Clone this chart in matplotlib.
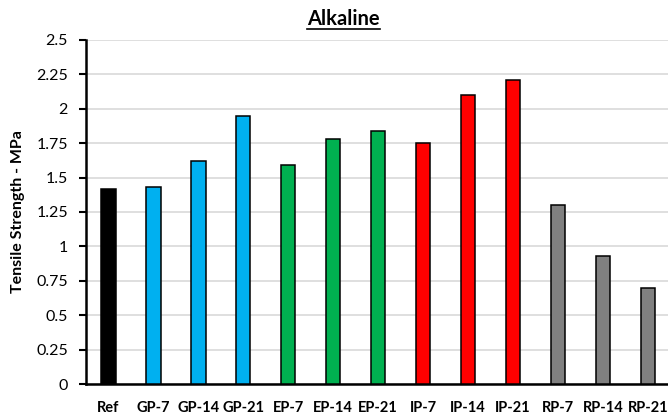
import matplotlib.pyplot as plt

plt.rcParams['font.family'] = ['Lato', 'DejaVu Sans']

categories = ['Ref', 'GP-7', 'GP-14', 'GP-21', 'EP-7', 'EP-14', 'EP-21',
              'IP-7', 'IP-14', 'IP-21', 'RP-7', 'RP-14', 'RP-21']
values = [1.42, 1.43, 1.62, 1.95, 1.59, 1.78, 1.84, 1.75, 2.10, 2.21, 1.30, 0.93, 0.70]
colors = ['#000000'] + ['#00B0F0'] * 3 + ['#00B050'] * 3 + ['#FF0000'] * 3 + ['#808080'] * 3
y_ticks = [0, 0.25, 0.5, 0.75, 1, 1.25, 1.5, 1.75, 2, 2.25, 2.5]
y_labels = ['0', '0.25', '0.5', '0.75', '1', '1.25', '1.5', '1.75', '2', '2.25', '2.5']

fig = plt.figure(figsize=(6.68, 4.2), dpi=100)
ax = fig.add_axes([0.1287, 0.0857, 0.8713, 0.8191])

x = range(len(categories))
ax.bar(x, values, width=0.32, color=colors, edgecolor='black', linewidth=1.1, zorder=3)

ax.set_xlim(-0.5, 12.45)
ax.set_ylim(0, 2.5)
ax.set_yticks(y_ticks)
ax.set_yticklabels(y_labels, fontsize=11.5)
ax.set_xticks(list(x))
ax.set_xticklabels(categories, fontsize=10.5, fontweight='bold')
ax.tick_params(axis='x', length=0, pad=12)
ax.tick_params(axis='y', direction='out', length=5, width=1.5, pad=8)

ax.grid(axis='y', color='#D9D9D9', linewidth=1.2, zorder=0)
for s in ['top', 'right']:
    ax.spines[s].set_visible(False)
ax.spines['left'].set_linewidth(1.8)
ax.spines['bottom'].set_linewidth(1.8)

ax.set_ylabel('Tensile Strength - MPa', fontsize=11.5, fontweight='bold', labelpad=8)
fig.text(0.514, 0.955, 'Alkaline', ha='center', va='center', fontsize=14.5, fontweight='bold')
fig.add_artist(plt.Line2D([0.459, 0.569], [0.932, 0.932], color='black', linewidth=1.2))

fig.savefig('out.png', dpi=100)
